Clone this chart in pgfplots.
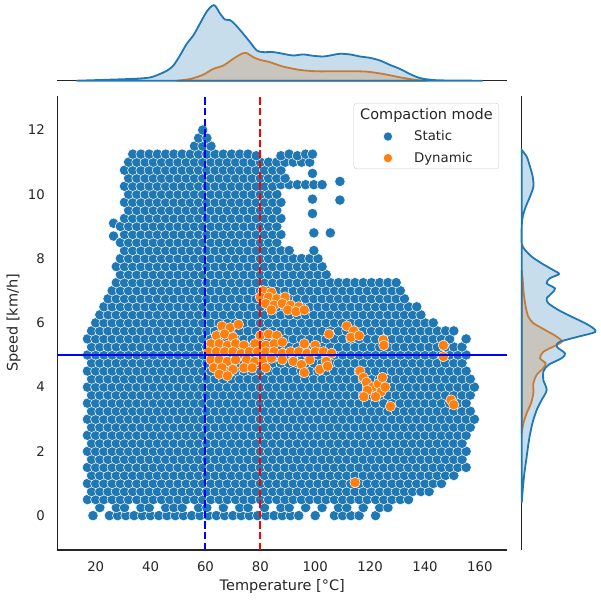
\documentclass[border=0pt]{standalone}
\usepackage{pgfplots}
\pgfplotsset{compat=1.18}
\usepackage{fontspec}
\setmainfont{DejaVu Sans}
\definecolor{tabblue}{HTML}{1F77B4}
\definecolor{taborange}{HTML}{FF7F0E}
\definecolor{txt}{HTML}{262626}
\pgfplotsset{mymarklegend/.style={legend image code/.code={\path (-28pt,0pt) (4.5pt,0pt); \draw[mark repeat=1,mark phase=1,##1,mark size=4.6pt] plot coordinates {(0pt,0pt)};}}}
\begin{document}
\begin{tikzpicture}[x=1pt,y=1pt]
\useasboundingbox (0,0) rectangle (601,602);
% ---------------- main scatter axis ----------------
\begin{axis}[
  at={(57.3pt,52pt)}, anchor=south west,
  width=450pt, height=454pt, scale only axis,
  xmin=6, xmax=170, ymin=-1.07, ymax=13.06,
  clip mode=individual,
  axis x line*=bottom, axis y line*=left,
  axis line style={-, draw=txt, line width=1.1pt},
  xtick={20,40,...,160}, ytick={0,2,...,12},
  major tick length=0pt,
  /pgf/number format/assume math mode=true,
  tick label style={font=\fontsize{13.3}{16}\selectfont, text=txt},
  xticklabel style={anchor=north, inner sep=0pt, yshift=-11.8pt},
  yticklabel style={anchor=east, inner sep=0pt, xshift=-12.3pt},
  xlabel={Temperature [°C]}, ylabel={Speed [km/h]},
  label style={font=\fontsize{14.5}{17}\selectfont, text=txt},
  x label style={at={(axis description cs:0.5,-0.0815)}, anchor=center},
  y label style={at={(axis description cs:-0.0973,0.5)}, anchor=center},
  legend style={at={(axis description cs:0.9816,0.9846)}, anchor=north east,
    draw=black!20, rounded corners=3pt, fill=white,
    font=\fontsize{13.3}{16}\selectfont, text=txt, inner xsep=6pt, inner ysep=5pt,
    row sep=10pt, column sep=21.5pt, nodes={inner sep=0pt}},
  legend cell align=left,
]
\addlegendimage{empty legend}
\addlegendentry{\fontsize{14.5}{17}\selectfont\hspace*{-54pt}Compaction mode}
% Static
\addplot[only marks, mark=*, mark size=5.2pt, mark options={fill=tabblue, draw=white, line width=0.5pt}, mymarklegend]
coordinates {
(19,0)(25,0)(28,0)(31,0)(34,0)(37,0)(40,0)(43,0)(46,0)(49,0)(52,0)(55,0)(58,0)(61,0)(64,0)(67,0)(70,0)(73,0)(76,0)(79,0)(82,0)(85,0)(88,0)(91,0)(94,0)(100,0)(107,0)(110,0)(113,0)(116,0)(122,0)
(21.5,0.25)(27.5,0.25)(30.5,0.25)(36.5,0.25)(39.5,0.25)(45.5,0.25)(48.5,0.25)(51.5,0.25)(57.5,0.25)(60.5,0.25)(66.5,0.25)(72.5,0.25)(75.5,0.25)(81.5,0.25)(87.5,0.25)(90.5,0.25)(96.5,0.25)(102.5,0.25)(108.5,0.25)(111.5,0.25)(117.5,0.25)(123.5,0.25)(126.5,0.25)
(17,0.5)(20,0.5)(23,0.5)(26,0.5)(29,0.5)(32,0.5)(35,0.5)(38,0.5)(41,0.5)(44,0.5)(47,0.5)(50,0.5)(53,0.5)(56,0.5)(59,0.5)(62,0.5)(65,0.5)(68,0.5)(71,0.5)(74,0.5)(77,0.5)(80,0.5)(83,0.5)(86,0.5)(89,0.5)(92,0.5)(95,0.5)(98,0.5)(101,0.5)(104,0.5)(107,0.5)(110,0.5)(113,0.5)(116,0.5)(119,0.5)(122,0.5)(125,0.5)(128,0.5)(131,0.5)(134,0.5)
(18.5,0.75)(21.5,0.75)(24.5,0.75)(27.5,0.75)(30.5,0.75)(33.5,0.75)(36.5,0.75)(39.5,0.75)(42.5,0.75)(45.5,0.75)(48.5,0.75)(51.5,0.75)(54.5,0.75)(57.5,0.75)(60.5,0.75)(63.5,0.75)(66.5,0.75)(69.5,0.75)(72.5,0.75)(75.5,0.75)(78.5,0.75)(81.5,0.75)(84.5,0.75)(87.5,0.75)(90.5,0.75)(93.5,0.75)(96.5,0.75)(99.5,0.75)(102.5,0.75)(105.5,0.75)(108.5,0.75)(111.5,0.75)(114.5,0.75)(117.5,0.75)(120.5,0.75)(123.5,0.75)(126.5,0.75)(129.5,0.75)(132.5,0.75)(135.5,0.75)(138.5,0.75)(141.5,0.75)
(17,1)(20,1)(23,1)(26,1)(29,1)(32,1)(35,1)(38,1)(41,1)(44,1)(47,1)(50,1)(53,1)(56,1)(59,1)(62,1)(65,1)(68,1)(71,1)(74,1)(77,1)(80,1)(83,1)(86,1)(89,1)(92,1)(95,1)(98,1)(101,1)(104,1)(107,1)(110,1)(113,1)(116,1)(119,1)(122,1)(125,1)(128,1)(131,1)(134,1)(137,1)(140,1)(143,1)(146,1)
(18.5,1.25)(21.5,1.25)(24.5,1.25)(27.5,1.25)(30.5,1.25)(33.5,1.25)(36.5,1.25)(39.5,1.25)(42.5,1.25)(45.5,1.25)(48.5,1.25)(51.5,1.25)(54.5,1.25)(57.5,1.25)(60.5,1.25)(63.5,1.25)(66.5,1.25)(69.5,1.25)(72.5,1.25)(75.5,1.25)(78.5,1.25)(81.5,1.25)(84.5,1.25)(87.5,1.25)(90.5,1.25)(93.5,1.25)(96.5,1.25)(99.5,1.25)(102.5,1.25)(105.5,1.25)(108.5,1.25)(111.5,1.25)(114.5,1.25)(117.5,1.25)(120.5,1.25)(123.5,1.25)(126.5,1.25)(129.5,1.25)(132.5,1.25)(135.5,1.25)(138.5,1.25)(141.5,1.25)(144.5,1.25)(147.5,1.25)(150.5,1.25)
(17,1.5)(20,1.5)(23,1.5)(26,1.5)(29,1.5)(32,1.5)(35,1.5)(38,1.5)(41,1.5)(44,1.5)(47,1.5)(50,1.5)(53,1.5)(56,1.5)(59,1.5)(62,1.5)(65,1.5)(68,1.5)(71,1.5)(74,1.5)(77,1.5)(80,1.5)(83,1.5)(86,1.5)(89,1.5)(92,1.5)(95,1.5)(98,1.5)(101,1.5)(104,1.5)(107,1.5)(110,1.5)(113,1.5)(116,1.5)(119,1.5)(122,1.5)(125,1.5)(128,1.5)(131,1.5)(134,1.5)(137,1.5)(140,1.5)(143,1.5)(146,1.5)(149,1.5)(152,1.5)(155,1.5)
(18.5,1.75)(21.5,1.75)(24.5,1.75)(27.5,1.75)(30.5,1.75)(33.5,1.75)(36.5,1.75)(39.5,1.75)(42.5,1.75)(45.5,1.75)(48.5,1.75)(51.5,1.75)(54.5,1.75)(57.5,1.75)(60.5,1.75)(63.5,1.75)(66.5,1.75)(69.5,1.75)(72.5,1.75)(75.5,1.75)(78.5,1.75)(81.5,1.75)(84.5,1.75)(87.5,1.75)(90.5,1.75)(93.5,1.75)(96.5,1.75)(99.5,1.75)(102.5,1.75)(105.5,1.75)(108.5,1.75)(111.5,1.75)(114.5,1.75)(117.5,1.75)(120.5,1.75)(123.5,1.75)(126.5,1.75)(129.5,1.75)(132.5,1.75)(135.5,1.75)(138.5,1.75)(141.5,1.75)(144.5,1.75)(147.5,1.75)(150.5,1.75)(153.5,1.75)
(17,2)(20,2)(23,2)(26,2)(29,2)(32,2)(35,2)(38,2)(41,2)(44,2)(47,2)(50,2)(53,2)(56,2)(59,2)(62,2)(65,2)(68,2)(71,2)(74,2)(77,2)(80,2)(83,2)(86,2)(89,2)(92,2)(95,2)(98,2)(101,2)(104,2)(107,2)(110,2)(113,2)(116,2)(119,2)(122,2)(125,2)(128,2)(131,2)(134,2)(137,2)(140,2)(143,2)(146,2)(149,2)(152,2)(155,2)
(18.5,2.25)(21.5,2.25)(24.5,2.25)(27.5,2.25)(30.5,2.25)(33.5,2.25)(36.5,2.25)(39.5,2.25)(42.5,2.25)(45.5,2.25)(48.5,2.25)(51.5,2.25)(54.5,2.25)(57.5,2.25)(60.5,2.25)(63.5,2.25)(66.5,2.25)(69.5,2.25)(72.5,2.25)(75.5,2.25)(78.5,2.25)(81.5,2.25)(84.5,2.25)(87.5,2.25)(90.5,2.25)(93.5,2.25)(96.5,2.25)(99.5,2.25)(102.5,2.25)(105.5,2.25)(108.5,2.25)(111.5,2.25)(114.5,2.25)(117.5,2.25)(120.5,2.25)(123.5,2.25)(126.5,2.25)(129.5,2.25)(132.5,2.25)(135.5,2.25)(138.5,2.25)(141.5,2.25)(144.5,2.25)(147.5,2.25)(150.5,2.25)(153.5,2.25)
(17,2.5)(20,2.5)(23,2.5)(26,2.5)(29,2.5)(32,2.5)(35,2.5)(38,2.5)(41,2.5)(44,2.5)(47,2.5)(50,2.5)(53,2.5)(56,2.5)(59,2.5)(62,2.5)(65,2.5)(68,2.5)(71,2.5)(74,2.5)(77,2.5)(80,2.5)(83,2.5)(86,2.5)(89,2.5)(92,2.5)(95,2.5)(98,2.5)(101,2.5)(104,2.5)(107,2.5)(110,2.5)(113,2.5)(116,2.5)(119,2.5)(122,2.5)(125,2.5)(128,2.5)(131,2.5)(134,2.5)(137,2.5)(140,2.5)(143,2.5)(146,2.5)(149,2.5)(152,2.5)(155,2.5)
(18.5,2.75)(21.5,2.75)(24.5,2.75)(27.5,2.75)(30.5,2.75)(33.5,2.75)(36.5,2.75)(39.5,2.75)(42.5,2.75)(45.5,2.75)(48.5,2.75)(51.5,2.75)(54.5,2.75)(57.5,2.75)(60.5,2.75)(63.5,2.75)(66.5,2.75)(69.5,2.75)(72.5,2.75)(75.5,2.75)(78.5,2.75)(81.5,2.75)(84.5,2.75)(87.5,2.75)(90.5,2.75)(93.5,2.75)(96.5,2.75)(99.5,2.75)(102.5,2.75)(105.5,2.75)(108.5,2.75)(111.5,2.75)(114.5,2.75)(117.5,2.75)(120.5,2.75)(123.5,2.75)(126.5,2.75)(129.5,2.75)(132.5,2.75)(135.5,2.75)(138.5,2.75)(141.5,2.75)(144.5,2.75)(147.5,2.75)(150.5,2.75)(153.5,2.75)(156.5,2.75)
(17,3)(20,3)(23,3)(26,3)(29,3)(32,3)(35,3)(38,3)(41,3)(44,3)(47,3)(50,3)(53,3)(56,3)(59,3)(62,3)(65,3)(68,3)(71,3)(74,3)(77,3)(80,3)(83,3)(86,3)(89,3)(92,3)(95,3)(98,3)(101,3)(104,3)(107,3)(110,3)(113,3)(116,3)(119,3)(122,3)(125,3)(128,3)(131,3)(134,3)(137,3)(140,3)(143,3)(146,3)(149,3)(152,3)(155,3)(158,3)
(18.5,3.25)(21.5,3.25)(24.5,3.25)(27.5,3.25)(30.5,3.25)(33.5,3.25)(36.5,3.25)(39.5,3.25)(42.5,3.25)(45.5,3.25)(48.5,3.25)(51.5,3.25)(54.5,3.25)(57.5,3.25)(60.5,3.25)(63.5,3.25)(66.5,3.25)(69.5,3.25)(72.5,3.25)(75.5,3.25)(78.5,3.25)(81.5,3.25)(84.5,3.25)(87.5,3.25)(90.5,3.25)(93.5,3.25)(96.5,3.25)(99.5,3.25)(102.5,3.25)(105.5,3.25)(108.5,3.25)(111.5,3.25)(114.5,3.25)(117.5,3.25)(120.5,3.25)(123.5,3.25)(126.5,3.25)(129.5,3.25)(132.5,3.25)(135.5,3.25)(138.5,3.25)(141.5,3.25)(144.5,3.25)(147.5,3.25)(150.5,3.25)(153.5,3.25)(156.5,3.25)
(17,3.5)(20,3.5)(23,3.5)(26,3.5)(29,3.5)(32,3.5)(35,3.5)(38,3.5)(41,3.5)(44,3.5)(47,3.5)(50,3.5)(53,3.5)(56,3.5)(59,3.5)(62,3.5)(65,3.5)(68,3.5)(71,3.5)(74,3.5)(77,3.5)(80,3.5)(83,3.5)(86,3.5)(89,3.5)(92,3.5)(95,3.5)(98,3.5)(101,3.5)(104,3.5)(107,3.5)(110,3.5)(113,3.5)(116,3.5)(119,3.5)(122,3.5)(125,3.5)(128,3.5)(131,3.5)(134,3.5)(137,3.5)(140,3.5)(143,3.5)(146,3.5)(149,3.5)(152,3.5)(155,3.5)
(18.5,3.75)(21.5,3.75)(24.5,3.75)(27.5,3.75)(30.5,3.75)(33.5,3.75)(36.5,3.75)(39.5,3.75)(42.5,3.75)(45.5,3.75)(48.5,3.75)(51.5,3.75)(54.5,3.75)(57.5,3.75)(60.5,3.75)(63.5,3.75)(66.5,3.75)(69.5,3.75)(72.5,3.75)(75.5,3.75)(78.5,3.75)(81.5,3.75)(84.5,3.75)(87.5,3.75)(90.5,3.75)(93.5,3.75)(96.5,3.75)(99.5,3.75)(102.5,3.75)(105.5,3.75)(108.5,3.75)(111.5,3.75)(114.5,3.75)(117.5,3.75)(120.5,3.75)(123.5,3.75)(126.5,3.75)(129.5,3.75)(132.5,3.75)(135.5,3.75)(138.5,3.75)(141.5,3.75)(144.5,3.75)(147.5,3.75)(150.5,3.75)(153.5,3.75)(156.5,3.75)
(17,4)(20,4)(23,4)(26,4)(29,4)(32,4)(35,4)(38,4)(41,4)(44,4)(47,4)(50,4)(53,4)(56,4)(59,4)(62,4)(65,4)(68,4)(71,4)(74,4)(77,4)(80,4)(83,4)(86,4)(89,4)(92,4)(95,4)(98,4)(101,4)(104,4)(107,4)(110,4)(113,4)(116,4)(119,4)(122,4)(125,4)(128,4)(131,4)(134,4)(137,4)(140,4)(143,4)(146,4)(149,4)(152,4)(155,4)(158,4)
(18.5,4.25)(21.5,4.25)(24.5,4.25)(27.5,4.25)(30.5,4.25)(33.5,4.25)(36.5,4.25)(39.5,4.25)(42.5,4.25)(45.5,4.25)(48.5,4.25)(51.5,4.25)(54.5,4.25)(57.5,4.25)(60.5,4.25)(63.5,4.25)(66.5,4.25)(69.5,4.25)(72.5,4.25)(75.5,4.25)(78.5,4.25)(81.5,4.25)(84.5,4.25)(87.5,4.25)(90.5,4.25)(93.5,4.25)(96.5,4.25)(99.5,4.25)(102.5,4.25)(105.5,4.25)(108.5,4.25)(111.5,4.25)(114.5,4.25)(117.5,4.25)(120.5,4.25)(123.5,4.25)(126.5,4.25)(129.5,4.25)(132.5,4.25)(135.5,4.25)(138.5,4.25)(141.5,4.25)(144.5,4.25)(147.5,4.25)(150.5,4.25)(153.5,4.25)(156.5,4.25)
(17,4.5)(20,4.5)(23,4.5)(26,4.5)(29,4.5)(32,4.5)(35,4.5)(38,4.5)(41,4.5)(44,4.5)(47,4.5)(50,4.5)(53,4.5)(56,4.5)(59,4.5)(62,4.5)(65,4.5)(68,4.5)(71,4.5)(74,4.5)(77,4.5)(80,4.5)(83,4.5)(86,4.5)(89,4.5)(92,4.5)(95,4.5)(98,4.5)(101,4.5)(104,4.5)(107,4.5)(110,4.5)(113,4.5)(116,4.5)(119,4.5)(122,4.5)(125,4.5)(128,4.5)(131,4.5)(134,4.5)(137,4.5)(140,4.5)(143,4.5)(146,4.5)(149,4.5)(152,4.5)(155,4.5)
(18.5,4.75)(21.5,4.75)(24.5,4.75)(27.5,4.75)(30.5,4.75)(33.5,4.75)(36.5,4.75)(39.5,4.75)(42.5,4.75)(45.5,4.75)(48.5,4.75)(51.5,4.75)(54.5,4.75)(57.5,4.75)(60.5,4.75)(63.5,4.75)(66.5,4.75)(69.5,4.75)(72.5,4.75)(75.5,4.75)(78.5,4.75)(81.5,4.75)(84.5,4.75)(87.5,4.75)(90.5,4.75)(93.5,4.75)(96.5,4.75)(99.5,4.75)(102.5,4.75)(105.5,4.75)(108.5,4.75)(111.5,4.75)(114.5,4.75)(117.5,4.75)(120.5,4.75)(123.5,4.75)(126.5,4.75)(129.5,4.75)(132.5,4.75)(135.5,4.75)(138.5,4.75)(141.5,4.75)(144.5,4.75)(147.5,4.75)(150.5,4.75)(153.5,4.75)
(17,5)(20,5)(23,5)(26,5)(29,5)(32,5)(35,5)(38,5)(41,5)(44,5)(47,5)(50,5)(53,5)(56,5)(59,5)(62,5)(65,5)(68,5)(71,5)(74,5)(77,5)(80,5)(83,5)(86,5)(89,5)(92,5)(95,5)(98,5)(101,5)(104,5)(107,5)(110,5)(113,5)(116,5)(119,5)(122,5)(125,5)(128,5)(131,5)(134,5)(137,5)(140,5)(143,5)(146,5)(149,5)(152,5)(155,5)
(18.5,5.25)(21.5,5.25)(24.5,5.25)(27.5,5.25)(30.5,5.25)(33.5,5.25)(36.5,5.25)(39.5,5.25)(42.5,5.25)(45.5,5.25)(48.5,5.25)(51.5,5.25)(54.5,5.25)(57.5,5.25)(60.5,5.25)(63.5,5.25)(66.5,5.25)(69.5,5.25)(72.5,5.25)(75.5,5.25)(78.5,5.25)(81.5,5.25)(84.5,5.25)(87.5,5.25)(90.5,5.25)(93.5,5.25)(96.5,5.25)(99.5,5.25)(102.5,5.25)(105.5,5.25)(108.5,5.25)(111.5,5.25)(114.5,5.25)(117.5,5.25)(120.5,5.25)(123.5,5.25)(126.5,5.25)(129.5,5.25)(132.5,5.25)(135.5,5.25)(138.5,5.25)(141.5,5.25)(144.5,5.25)(147.5,5.25)(150.5,5.25)(153.5,5.25)
(17,5.5)(20,5.5)(23,5.5)(26,5.5)(29,5.5)(32,5.5)(35,5.5)(38,5.5)(41,5.5)(44,5.5)(47,5.5)(50,5.5)(53,5.5)(56,5.5)(59,5.5)(62,5.5)(65,5.5)(68,5.5)(71,5.5)(74,5.5)(77,5.5)(80,5.5)(83,5.5)(86,5.5)(89,5.5)(92,5.5)(95,5.5)(98,5.5)(101,5.5)(104,5.5)(107,5.5)(110,5.5)(113,5.5)(116,5.5)(119,5.5)(122,5.5)(125,5.5)(128,5.5)(131,5.5)(134,5.5)(137,5.5)(140,5.5)(143,5.5)(146,5.5)(149,5.5)(155,5.5)
(18.5,5.75)(21.5,5.75)(24.5,5.75)(27.5,5.75)(30.5,5.75)(33.5,5.75)(36.5,5.75)(39.5,5.75)(42.5,5.75)(45.5,5.75)(48.5,5.75)(51.5,5.75)(54.5,5.75)(57.5,5.75)(60.5,5.75)(63.5,5.75)(66.5,5.75)(69.5,5.75)(72.5,5.75)(75.5,5.75)(78.5,5.75)(81.5,5.75)(84.5,5.75)(87.5,5.75)(90.5,5.75)(93.5,5.75)(96.5,5.75)(99.5,5.75)(102.5,5.75)(105.5,5.75)(108.5,5.75)(111.5,5.75)(114.5,5.75)(117.5,5.75)(120.5,5.75)(123.5,5.75)(126.5,5.75)(129.5,5.75)(132.5,5.75)(135.5,5.75)(138.5,5.75)(141.5,5.75)(144.5,5.75)(147.5,5.75)(150.5,5.75)
(20,6)(23,6)(26,6)(29,6)(32,6)(35,6)(38,6)(41,6)(44,6)(47,6)(50,6)(53,6)(56,6)(59,6)(62,6)(65,6)(68,6)(71,6)(74,6)(77,6)(80,6)(83,6)(86,6)(89,6)(92,6)(95,6)(98,6)(101,6)(104,6)(107,6)(110,6)(113,6)(116,6)(119,6)(122,6)(125,6)(128,6)(131,6)(134,6)(137,6)(140,6)(143,6)
(21.5,6.25)(24.5,6.25)(27.5,6.25)(30.5,6.25)(33.5,6.25)(36.5,6.25)(39.5,6.25)(42.5,6.25)(45.5,6.25)(48.5,6.25)(51.5,6.25)(54.5,6.25)(57.5,6.25)(60.5,6.25)(63.5,6.25)(66.5,6.25)(69.5,6.25)(72.5,6.25)(75.5,6.25)(78.5,6.25)(81.5,6.25)(84.5,6.25)(87.5,6.25)(90.5,6.25)(93.5,6.25)(96.5,6.25)(99.5,6.25)(102.5,6.25)(105.5,6.25)(108.5,6.25)(111.5,6.25)(114.5,6.25)(117.5,6.25)(120.5,6.25)(123.5,6.25)(126.5,6.25)(129.5,6.25)(132.5,6.25)(135.5,6.25)(138.5,6.25)
(23,6.5)(26,6.5)(29,6.5)(32,6.5)(35,6.5)(38,6.5)(41,6.5)(44,6.5)(47,6.5)(50,6.5)(53,6.5)(56,6.5)(59,6.5)(62,6.5)(65,6.5)(68,6.5)(71,6.5)(74,6.5)(77,6.5)(80,6.5)(83,6.5)(86,6.5)(89,6.5)(92,6.5)(95,6.5)(98,6.5)(101,6.5)(104,6.5)(107,6.5)(110,6.5)(113,6.5)(116,6.5)(119,6.5)(122,6.5)(125,6.5)(128,6.5)(131,6.5)(134,6.5)(137,6.5)
(24.5,6.75)(27.5,6.75)(30.5,6.75)(33.5,6.75)(36.5,6.75)(39.5,6.75)(42.5,6.75)(45.5,6.75)(48.5,6.75)(51.5,6.75)(54.5,6.75)(57.5,6.75)(60.5,6.75)(63.5,6.75)(66.5,6.75)(69.5,6.75)(72.5,6.75)(75.5,6.75)(78.5,6.75)(81.5,6.75)(84.5,6.75)(87.5,6.75)(90.5,6.75)(93.5,6.75)(96.5,6.75)(99.5,6.75)(102.5,6.75)(105.5,6.75)(108.5,6.75)(111.5,6.75)(114.5,6.75)(117.5,6.75)(120.5,6.75)(123.5,6.75)(126.5,6.75)(129.5,6.75)(132.5,6.75)
(26,7)(29,7)(32,7)(35,7)(38,7)(41,7)(44,7)(47,7)(50,7)(53,7)(56,7)(59,7)(62,7)(65,7)(68,7)(71,7)(74,7)(77,7)(80,7)(83,7)(86,7)(89,7)(92,7)(95,7)(98,7)(101,7)(104,7)(107,7)(110,7)(113,7)(116,7)(119,7)(122,7)(125,7)(128,7)(131,7)
(27.5,7.25)(30.5,7.25)(33.5,7.25)(36.5,7.25)(39.5,7.25)(42.5,7.25)(45.5,7.25)(48.5,7.25)(51.5,7.25)(54.5,7.25)(57.5,7.25)(60.5,7.25)(63.5,7.25)(66.5,7.25)(69.5,7.25)(72.5,7.25)(75.5,7.25)(78.5,7.25)(81.5,7.25)(84.5,7.25)(87.5,7.25)(90.5,7.25)(93.5,7.25)(96.5,7.25)(99.5,7.25)(102.5,7.25)(105.5,7.25)(108.5,7.25)(111.5,7.25)(114.5,7.25)(117.5,7.25)(120.5,7.25)(123.5,7.25)(126.5,7.25)(129.5,7.25)
(29,7.5)(32,7.5)(35,7.5)(38,7.5)(41,7.5)(44,7.5)(47,7.5)(50,7.5)(53,7.5)(56,7.5)(59,7.5)(62,7.5)(65,7.5)(68,7.5)(71,7.5)(74,7.5)(77,7.5)(80,7.5)(83,7.5)(86,7.5)(89,7.5)(92,7.5)(95,7.5)(98,7.5)(101,7.5)(104,7.5)
(27.5,7.75)(30.5,7.75)(33.5,7.75)(36.5,7.75)(39.5,7.75)(42.5,7.75)(45.5,7.75)(48.5,7.75)(51.5,7.75)(54.5,7.75)(57.5,7.75)(60.5,7.75)(63.5,7.75)(66.5,7.75)(69.5,7.75)(72.5,7.75)(75.5,7.75)(78.5,7.75)(81.5,7.75)(84.5,7.75)(87.5,7.75)(90.5,7.75)(93.5,7.75)(96.5,7.75)(99.5,7.75)(102.5,7.75)
(29,8)(32,8)(35,8)(38,8)(41,8)(44,8)(47,8)(50,8)(53,8)(56,8)(59,8)(62,8)(65,8)(68,8)(71,8)(74,8)(77,8)(80,8)(83,8)(86,8)(89,8)(92,8)(95,8)(98,8)(101,8)
(30.5,8.25)(33.5,8.25)(36.5,8.25)(39.5,8.25)(42.5,8.25)(45.5,8.25)(48.5,8.25)(51.5,8.25)(54.5,8.25)(57.5,8.25)(60.5,8.25)(63.5,8.25)(66.5,8.25)(69.5,8.25)(72.5,8.25)(75.5,8.25)(78.5,8.25)(81.5,8.25)(84.5,8.25)(87.5,8.25)(90.5,8.25)(99.5,8.25)
(26.5,8.7)(29,8.5)(32,8.5)(35,8.5)(38,8.5)(41,8.5)(44,8.5)(47,8.5)(50,8.5)(53,8.5)(56,8.5)(59,8.5)(62,8.5)(65,8.5)(68,8.5)(71,8.5)(74,8.5)(77,8.5)(80,8.5)(83,8.5)(86,8.5)
(30.5,8.75)(33.5,8.75)(36.5,8.75)(39.5,8.75)(42.5,8.75)(45.5,8.75)(48.5,8.75)(51.5,8.75)(54.5,8.75)(57.5,8.75)(60.5,8.75)(63.5,8.75)(66.5,8.75)(69.5,8.75)(72.5,8.75)(75.5,8.75)(78.5,8.75)(81.5,8.75)(84.5,8.75)(87.5,8.75)(99.5,8.8)(105.5,8.8)
(26.5,9.1)(29,9)(32,9)(35,9)(38,9)(41,9)(44,9)(47,9)(50,9)(53,9)(56,9)(59,9)(62,9)(65,9)(68,9)(71,9)(74,9)(77,9)(80,9)(83,9)(86,9)
(30.5,9.25)(33.5,9.25)(36.5,9.25)(39.5,9.25)(42.5,9.25)(45.5,9.25)(48.5,9.25)(51.5,9.25)(54.5,9.25)(57.5,9.25)(60.5,9.25)(63.5,9.25)(66.5,9.25)(69.5,9.25)(72.5,9.25)(75.5,9.25)(78.5,9.25)(81.5,9.25)(84.5,9.25)(87.5,9.25)(99,9.4)
(32,9.5)(35,9.5)(38,9.5)(41,9.5)(44,9.5)(47,9.5)(50,9.5)(53,9.5)(56,9.5)(59,9.5)(62,9.5)(65,9.5)(68,9.5)(71,9.5)(74,9.5)(77,9.5)(80,9.5)(83,9.5)(86,9.5)
(30.5,9.75)(33.5,9.75)(36.5,9.75)(39.5,9.75)(42.5,9.75)(45.5,9.75)(48.5,9.75)(51.5,9.75)(54.5,9.75)(57.5,9.75)(60.5,9.75)(63.5,9.75)(66.5,9.75)(69.5,9.75)(72.5,9.75)(75.5,9.75)(78.5,9.75)(81.5,9.75)(84.5,9.75)(87.5,9.75)(99,9.85)(109,9.82)
(32,10)(35,10)(38,10)(41,10)(44,10)(47,10)(50,10)(53,10)(56,10)(59,10)(62,10)(65,10)(68,10)(71,10)(74,10)(77,10)(80,10)(83,10)(86,10)
(30.5,10.25)(33.5,10.25)(36.5,10.25)(39.5,10.25)(42.5,10.25)(45.5,10.25)(48.5,10.25)(51.5,10.25)(54.5,10.25)(57.5,10.25)(60.5,10.25)(63.5,10.25)(66.5,10.25)(69.5,10.25)(72.5,10.25)(75.5,10.25)(78.5,10.25)(81.5,10.25)(84.5,10.25)(87.5,10.3)(90.5,10.3)(93.5,10.3)(96.5,10.3)(99.5,10.3)(102.5,10.3)(109,10.4)
(32,10.5)(35,10.5)(38,10.5)(41,10.5)(44,10.5)(47,10.5)(50,10.5)(53,10.5)(56,10.5)(59,10.5)(62,10.5)(65,10.5)(68,10.5)(71,10.5)(74,10.5)(77,10.5)(80,10.5)(83,10.5)(86,10.5)(89,10.5)(99,10.65)
(30.5,10.75)(33.5,10.75)(36.5,10.75)(39.5,10.75)(42.5,10.75)(45.5,10.75)(48.5,10.75)(51.5,10.75)(54.5,10.75)(57.5,10.75)(60.5,10.75)(63.5,10.75)(66.5,10.75)(69.5,10.75)(72.5,10.75)(75.5,10.75)(78.5,10.75)(81.5,10.75)(84.5,10.75)(87.5,10.75)
(32,11)(35,11)(38,11)(41,11)(44,11)(47,11)(50,11)(53,11)(56,11)(59,11)(62,11)(65,11)(68,11)(71,11)(74,11)(77,11)(80,11)(83,11)(86,11)(89,11)(92,11)(95,11)(98,11)
(33.5,11.25)(36.5,11.25)(39.5,11.25)(42.5,11.25)(45.5,11.25)(48.5,11.25)(51.5,11.25)(54.5,11.25)(57.5,11.25)(60.5,11.25)(63.5,11.25)(66.5,11.25)(69.5,11.25)(72.5,11.25)(75.5,11.25)(78.5,11.2)(87.5,11.2)(90.5,11.25)(93.5,11.2)(96.5,11.25)(99,11.25)
(56,11.5)(59,11.5)(62,11.5)(57.5,11.75)(60.5,11.75)(59,12)
};
\addlegendentry{Static}
% Dynamic
\addplot[only marks, mark=*, mark size=5.2pt, mark options={fill=taborange, draw=white, line width=0.5pt}, mymarklegend]
coordinates {
(81,7.0)(84,6.95)(80,6.8)(83,6.8)(86,6.75)(89,6.8)(82,6.6)(85,6.55)(88,6.6)(91,6.55)(94,6.5)(84,6.4)(90,6.4)(93,6.35)(96,6.4)
(66,5.9)(69,5.85)(72,5.95)
(64,5.6)(67,5.65)(70,5.55)(80,5.6)(83,5.65)(86,5.6)(105,5.65)(111.5,5.9)(114,5.75)(113,5.55)(116,5.6)(124.8,5.47)(125,5.3)
(62,5.35)(65,5.35)(68,5.3)(71,5.35)(74,5.3)(78,5.35)(82,5.3)(85,5.35)(88,5.4)(96,5.35)(100,5.3)
(61,5.1)(64,5.1)(67,5.1)(70,5.1)(73,5.05)(76,5.1)(79,5.1)(82,5.1)(85,5.1)(88,5.05)(91,5.1)(94,5.1)(97,5.05)(100,5.1)(103,5.1)(106,5.05)
(62,4.85)(65,4.85)(68,4.8)(71,4.85)(75,4.85)(78,4.8)(81,4.85)(84,4.9)(88,4.85)(92,4.8)(95,4.7)(98,4.85)(104,4.8)
(63,4.6)(66,4.6)(70,4.55)(74,4.6)(77,4.6)(82,4.6)(96,4.45)(101.7,4.55)(104.5,4.65)(65,4.4)(68,4.35)
(116.3,4.5)(117.5,4.3)(118.7,4.15)(121,4.0)(123,4.1)(124,3.85)(122,3.7)(119,3.9)(117.7,3.7)(127.4,3.4)(125.5,4.0)(124.5,4.3)
(146.7,5.3)(146.7,4.95)(149.5,3.6)(150.5,3.45)(114.5,1.03)
};
\addlegendentry{Dynamic}
\addplot[forget plot, blue, line width=2pt, dash pattern=on 7.4pt off 3.2pt] coordinates {(60,-1.07)(60,13.06)};
\addplot[forget plot, red, line width=2pt, dash pattern=on 7.4pt off 3.2pt] coordinates {(80,-1.07)(80,13.06)};
\addplot[forget plot, blue, line width=2pt] coordinates {(6,5)(170,5)};
\end{axis}
% ---------------- top marginal ----------------
\begin{axis}[
  at={(57.3pt,521.3pt)}, anchor=south west,
  width=450pt, height=80.7pt, scale only axis,
  xmin=6, xmax=170, ymin=0, ymax=240,
  axis x line*=bottom, axis y line=none,
  axis line style={-, draw=txt, line width=1.1pt},
  xtick=\empty, ytick=\empty, clip=false,
]
\addplot[draw=taborange, line width=1.8pt, fill=taborange, fill opacity=0.25, draw opacity=1, smooth, tension=0.5] coordinates {
(49.5,0)(54.4,5)(59.2,18)(62.8,35)(66.5,45)(70.1,65)(73.2,80)(75,82)(77.4,70)(79.9,62)(83.5,55)(88.3,42)(94.4,32)(100.5,28)(106.6,28)(112.7,28)(118.7,27)(124.8,20)(130.9,10)(137,2)(140.6,0)
} -- cycle;
\addplot[draw=tabblue, line width=1.8pt, fill=tabblue, fill opacity=0.25, draw opacity=1, smooth, tension=0.5] coordinates {
(13,0)(25,3)(35,6)(40,10)(43.4,20)(46,30)(48.3,45)(50.7,75)(53.2,110)(55.6,135)(58,170)(60.4,205)(62.3,222)(63.5,223)(65.3,200)(67.1,182)(69,180)(70.7,168)(73.2,145)(76.2,115)(78.7,90)(81,85)(84.7,85)(88.3,80)(92,75)(95.6,78)(99.3,74)(102.9,72)(105.4,75)(109,80)(112.7,78)(116.3,72)(119.9,68)(123.6,60)(127.2,47)(130.9,35)(134.5,20)(138.1,8)(143,2)(150,0.5)(161,0)
} -- cycle;
\end{axis}
% ---------------- right marginal ----------------
\begin{axis}[
  at={(521.7pt,52pt)}, anchor=south west,
  width=79.3pt, height=454pt, scale only axis,
  xmin=0, xmax=238, ymin=-1.07, ymax=13.06,
  axis y line*=left, axis x line=none,
  axis line style={-, draw=txt, line width=1.1pt},
  xtick=\empty, ytick=\empty, clip=false,
]
\addplot[draw=taborange, line width=1.8pt, fill=taborange, fill opacity=0.25, draw opacity=1, smooth, tension=0.5] coordinates {
(0,7.64)(3,7.33)(6,6.92)(12,6.5)(20,6.19)(35,5.99)(70,5.78)(105,5.57)(120,5.41)(95,5.26)(65,5.1)(55,4.9)(72,4.74)(65,4.59)(45,4.38)(35,4.12)(35,3.81)(28,3.5)(15,3.19)(5,2.87)(0,2.56)
} -- cycle;
\addplot[draw=tabblue, line width=1.8pt, fill=tabblue, fill opacity=0.25, draw opacity=1, smooth, tension=0.5] coordinates {
(0,11.38)(15,11.17)(25,10.86)(33,10.55)(35,10.24)(25,9.93)(12,9.61)(3,9.3)(0,8.99)(0,8.47)(10,8.27)(30,8.06)(60,7.85)(95,7.64)(112,7.52)(85,7.39)(75,7.23)(100,7.07)(90,6.92)(75,6.76)(80,6.61)(110,6.4)(150,6.19)(190,5.99)(215,5.83)(220,5.71)(170,5.57)(115,5.41)(105,5.26)(130,5.05)(120,4.9)(80,4.69)(65,4.48)(65,4.22)(75,3.91)(60,3.6)(45,3.29)(32,2.87)(22,2.36)(15,1.84)(8,1.32)(3,0.8)(0,0.39)
} -- cycle;
\end{axis}
\end{tikzpicture}
\end{document}
